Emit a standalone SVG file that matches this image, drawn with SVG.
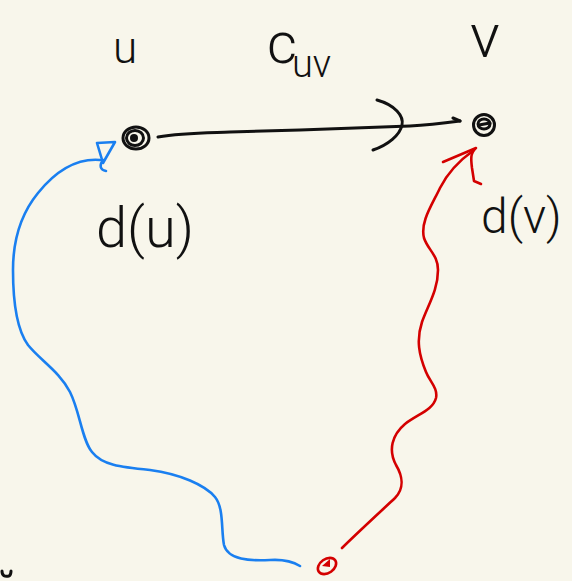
<svg xmlns="http://www.w3.org/2000/svg" width="572" height="581" viewBox="0 0 572 581">
  <style>
    .ink { fill: none; stroke-linecap: round; stroke-linejoin: round; }
    .k { stroke: #111111; stroke-width: 3; }
    .b { stroke: #1a7ff0; stroke-width: 2.6; }
    .r { stroke: #d40000; stroke-width: 2.6; }
    .lbl { font-family: "Roboto", "Liberation Sans", "DejaVu Sans", sans-serif; font-weight: 300; fill: #111111; }
  </style>
  <rect x="0" y="0" width="572" height="581" fill="#f8f6eb"/>

  <!-- labels -->
  <text class="lbl" x="113" y="63" font-size="44">u</text>
  <text class="lbl" x="267" y="63" font-size="58">c<tspan x="292" y="77" font-size="38">uv</tspan></text>
  <text class="lbl" x="470" y="57" font-size="62">v</text>
  <text class="lbl" x="96" y="247" font-size="56">d(u)</text>
  <text class="lbl" x="481" y="233" font-size="48">d(v)</text>

  <g id="connectors">
    <!-- u to v, black -->
    <path class="ink k" d="M158,137 C180,133 200,133 230,132 L300,130 C350,128 390,127 410,126 C430,125 445,123 460,121"/>
    <path class="ink k" d="M377,100 C395,105 404,116 402,125 C400,135 388,145 373,150"/>
    <path class="ink k" d="M453,118 L460,121"/>

    <!-- source to u, blue -->
    <path class="ink b" d="M100,160 C75,158 55,172 38,193 C20,215 13,240 13,270 C13,305 17,330 28,345 C40,360 60,372 70,392 C80,412 82,440 92,452 C102,465 120,467 150,470 C180,474 205,485 215,497 C224,508 221,530 224,545 C228,560 250,561 270,560 C285,559 295,563 300,566"/>
    <path class="ink b" d="M97,143 L115,142 L103,163 Z M103,160 C99,165 100,170 106,171"/>

    <!-- source to v, red -->
    <path class="ink r" d="M342,548 C355,535 380,512 395,498 C405,488 402,475 396,465 C388,450 392,435 405,424 C418,414 433,410 436,398 C438,388 430,382 426,372 C419,355 416,340 422,322 C428,305 438,290 438,270 C438,255 428,250 424,238 C420,222 432,205 440,188 C448,172 460,160 474,150"/>
    <path class="ink r" d="M443,162 L476,148 C470,153 471,160 472,168 L474,181 L481,184"/>
  </g>

  <g id="node-u">
    <ellipse class="ink k" cx="136" cy="138" rx="13" ry="11"/>
    <ellipse class="ink k" cx="135" cy="138" rx="8.5" ry="7.5"/>
    <circle cx="134" cy="138" r="4" fill="#111111"/>
  </g>

  <g id="node-v">
    <circle class="ink k" cx="484" cy="125" r="10.5"/>
    <ellipse class="ink k" cx="484" cy="124" rx="6" ry="5"/>
    <path class="ink k" d="M479,125 L490,123"/>
  </g>

  <g id="node-s">
    <ellipse class="ink r" cx="327" cy="566" rx="10" ry="7" transform="rotate(-35 327 566)"/>
    <path d="M322,566 L330,559 L330,567 Z" fill="#d40000"/>
  </g>

  <!-- stroke fragment at the lower-left edge -->
  <path class="ink k" d="M2,571 C2,576 5,577 9,576 C11,575 11,573 11,571" stroke-width="2.4"/>
</svg>
